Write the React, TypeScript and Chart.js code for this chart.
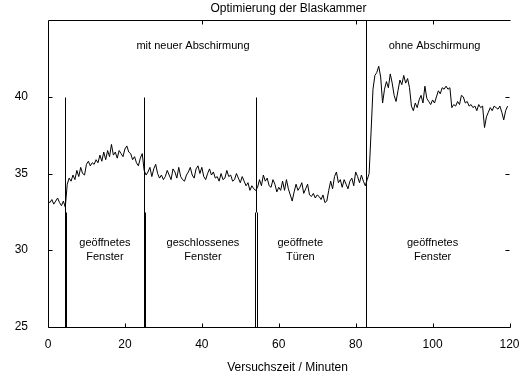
import React, { useEffect, useRef } from "react";
import { Chart, registerables } from "chart.js";

Chart.register(...registerables);

// ---- data ----
const chartTitle = "Optimierung der Blaskammer";
const xAxisTitle = "Versuchszeit / Minuten";
const sampleStepMinutes = 0.5;
// Messwerte, alle 0.5 min ab t = 0
const messwerte: number[] = [
  33.2, 33.1, 33.3, 33.0, 33.2, 33.4, 33.1, 32.9, 33.2, 32.8,
  34.3, 34.7, 34.5, 34.9, 34.6, 35.2, 34.8, 35.4, 35.0, 34.9,
  35.6, 35.8, 35.5, 35.7, 35.6, 35.9, 35.7, 36.2, 35.8, 36.4,
  35.9, 36.5, 36.1, 36.9, 36.2, 36.4, 36.0, 36.5, 36.3, 36.1,
  36.6, 36.8, 36.4, 36.3, 35.9, 36.1, 35.7, 35.5, 36.0, 36.3,
  35.2, 34.9, 35.1, 35.4, 34.8, 35.3, 35.6, 35.0, 34.7, 34.9,
  34.6, 34.8, 35.2, 34.9, 34.6, 35.3, 35.1, 34.7, 35.4, 34.8,
  34.6, 34.5, 34.9, 35.1, 35.4, 34.9, 34.7, 35.3, 35.5, 35.0,
  35.4, 34.8, 34.6, 35.0, 35.3, 34.9, 35.1, 34.7, 34.8, 34.5,
  35.0, 34.6, 34.7, 35.2, 34.8, 34.9, 34.5, 34.6, 35.0, 34.7,
  34.4, 34.8, 34.5, 34.2, 34.4, 33.9, 34.2, 34.0,
  33.9, 34.1, 34.6, 34.2, 34.9, 34.5, 34.7, 34.2, 34.1, 34.6,
  34.3, 33.8, 34.1, 33.9, 34.5, 33.9, 34.6, 34.0, 33.6, 33.2,
  33.8, 34.3, 33.9, 34.1, 34.4, 33.7, 34.0, 34.3, 33.6, 33.5,
  33.7, 33.4, 33.6, 33.5, 33.3, 33.6, 33.1, 33.2, 33.9, 34.5,
  34.0, 34.8, 35.1, 34.4, 34.6, 34.1, 34.6, 34.3, 34.0, 34.5,
  34.7, 34.2, 35.1, 34.8, 34.4, 34.9, 34.5, 34.2, 34.6, 35.0,
  37.7, 40.5, 41.4, 41.6, 42.0, 41.3,
  39.6, 40.5, 41.0, 40.6, 41.5, 40.9, 40.1, 39.7, 40.4, 41.1,
  40.8, 41.4, 40.9, 41.2, 40.6, 39.4, 39.1, 39.6, 39.3, 39.8,
  40.1, 39.6, 40.7, 39.9, 39.7, 39.5, 39.8, 39.6, 40.0, 40.4,
  40.2, 40.6, 40.5, 40.7, 40.5, 40.6, 39.3, 39.5, 39.4, 39.7,
  39.5, 40.1, 40.0, 39.6, 39.7, 39.4, 39.5, 39.3, 39.4, 39.1,
  39.5, 39.3, 39.4, 38.0, 38.7, 39.0, 39.3, 39.1, 39.4, 39.3,
  39.2, 39.4, 39.0, 38.5, 39.1, 39.4,
];

// Ereignis-Markierungen (Zeitpunkt in min)
const markerTimes = [4.5, 24.9, 54.0, 82.6];
const markerTop = [40, 40, 40, 45];
const markerHeavyTop = [32.5, 32.5, 32.5, null];
const markerStyle = ["thick", "thick", "double", "thin"];

const xTicks = [0, 20, 40, 60, 80, 100, 120];
const yTicks = [25, 30, 35, 40];

const regionLabels = [
  { lines: ["mit neuer Abschirmung"], x: 37.7, y: 43.3 },
  { lines: ["ohne Abschirmung"], x: 100.5, y: 43.3 },
  { lines: ["geöffnetes", "Fenster"], x: 14.8, y: 30.0 },
  { lines: ["geschlossenes", "Fenster"], x: 40.3, y: 30.0 },
  { lines: ["geöffnete", "Türen"], x: 65.6, y: 30.0 },
  { lines: ["geöffnetes", "Fenster"], x: 100.0, y: 30.0 },
];

const FONT = '"Liberation Sans", Arial, Helvetica, sans-serif';

const overlay = {
  id: "overlay",
  afterDatasetsDraw(chart: any) {
    const { ctx } = chart;
    const x = chart.scales.x;
    const y = chart.scales.y;
    const px = (v: number) => Math.round(x.getPixelForValue(v)) + 0.5;
    const py = (v: number) => Math.round(y.getPixelForValue(v)) + 0.5;
    ctx.save();
    ctx.strokeStyle = "#000";
    ctx.lineWidth = 1;
    const L = px(0), R = px(120), T = py(45), B = py(25);
    ctx.beginPath();
    ctx.moveTo(R, T); ctx.lineTo(L, T); ctx.lineTo(L, B); ctx.lineTo(R, B);
    xTicks.forEach((t) => { ctx.moveTo(px(t), B); ctx.lineTo(px(t), B - 4); });
    [40, 80, 100].forEach((t) => { ctx.moveTo(px(t), T); ctx.lineTo(px(t), T + 4); });
    [30, 35, 40].forEach((t) => {
      ctx.moveTo(L, py(t)); ctx.lineTo(L + 4, py(t));
      ctx.moveTo(R - 5, py(t)); ctx.lineTo(R - 1, py(t));
    });
    // event markers
    markerTimes.forEach((t, i) => {
      const mx = px(t);
      const top = py(markerTop[i]);
      const h = markerHeavyTop[i];
      const style = markerStyle[i];
      if (style === "double" && h !== null) {
        ctx.moveTo(mx, top); ctx.lineTo(mx, py(h));
        ctx.moveTo(mx - 1, py(h)); ctx.lineTo(mx - 1, B);
        ctx.moveTo(mx + 1, py(h)); ctx.lineTo(mx + 1, B);
      } else {
        ctx.moveTo(mx, top); ctx.lineTo(mx, B);
        if (style === "thick" && h !== null) {
          ctx.moveTo(mx + 1, py(h)); ctx.lineTo(mx + 1, B);
        }
      }
    });
    ctx.stroke();

    ctx.fillStyle = "#000";
    ctx.textAlign = "center";
    ctx.textBaseline = "middle";
    ctx.font = "11px " + FONT;
    regionLabels.forEach((lab) => {
      const cx = x.getPixelForValue(lab.x);
      const cy = y.getPixelForValue(lab.y);
      const n = lab.lines.length;
      lab.lines.forEach((s, i) => {
        ctx.fillText(s, cx, cy + (i - (n - 1) / 2) * 14);
      });
    });
    ctx.font = "12px " + FONT;
    ctx.fillText(chartTitle, 288.5, 9);
    ctx.fillText(xAxisTitle, 287.5, 368);
    ctx.restore();
  },
};

export default function App() {
  const ref = useRef<HTMLCanvasElement | null>(null);
  useEffect(() => {
    if (!ref.current) return;
    const seriesData = messwerte.map((v, i) => ({ x: i * sampleStepMinutes, y: v }));
    const chart = new Chart(ref.current, {
      type: "line",
      data: {
        datasets: [
          {
            data: seriesData,
            borderColor: "#000",
            borderWidth: 1,
            pointRadius: 0,
            tension: 0,
          },
        ],
      },
      options: {
        animation: false,
        responsive: true,
        maintainAspectRatio: false,
        layout: { padding: { top: 20.3, right: 11.5, left: 0, bottom: 0 } },
        plugins: { legend: { display: false }, tooltip: { enabled: false }, title: { display: false } },
        scales: {
          x: {
            type: "linear",
            min: 0,
            max: 120,
            afterBuildTicks: (s: any) => { s.ticks = xTicks.map((v) => ({ value: v })); },
            afterFit: (s: any) => { s.height = 51.3; s.paddingLeft = 0; s.paddingRight = 0; },
            grid: { display: false },
            border: { display: false },
            ticks: { color: "#000", font: { family: FONT, size: 12 }, padding: 3, maxRotation: 0, autoSkip: false },
          },
          y: {
            type: "linear",
            min: 25,
            max: 45,
            afterBuildTicks: (s: any) => { s.ticks = yTicks.map((v) => ({ value: v })); },
            afterFit: (s: any) => { s.width = 48; s.paddingTop = 0; s.paddingBottom = 0; },
            grid: { display: false },
            border: { display: false },
            ticks: { color: "#000", font: { family: FONT, size: 12 }, padding: 12 },
          },
        },
      },
      plugins: [overlay],
    } as any);
    return () => chart.destroy();
  }, []);
  return (
    <div style={{ position: "fixed", left: 0, top: 0, width: 521, height: 378, background: "#fff" }}>
      <canvas ref={ref} />
    </div>
  );
}
